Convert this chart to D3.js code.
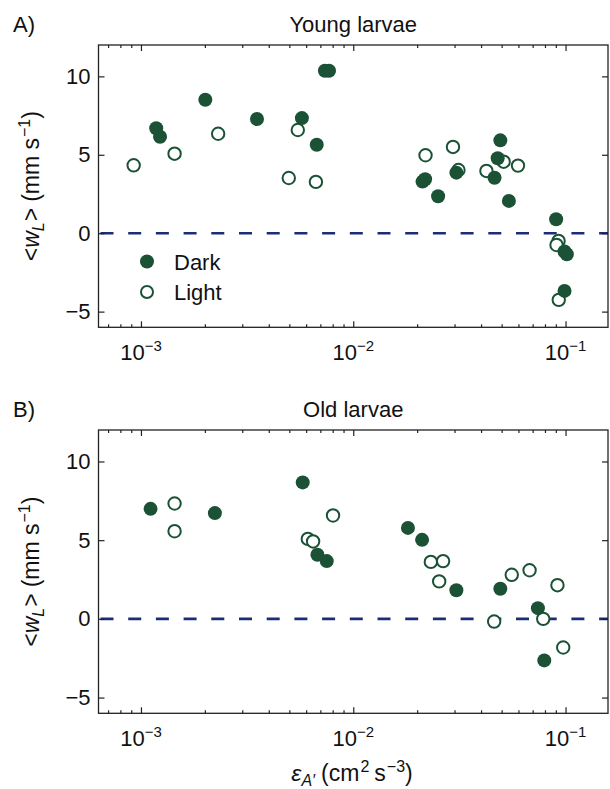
<!DOCTYPE html>
<html>
<head>
<meta charset="utf-8">
<script src="https://cdn.jsdelivr.net/npm/d3@7"></script>
<style>
  body { margin: 0; background: #fff; }
  text { font-family: "Liberation Sans", Arial, sans-serif; fill: #111; }
  .axis path { display: none; }
  .axis line { stroke: #222; stroke-width: 1.2; }
</style>
</head>
<body>
<svg id="chart" width="610" height="789"></svg>
<script>
// panel A - young larvae
var youngDarkX = [0.00118, 0.00123, 0.00201, 0.00352, 0.00573, 0.00673, 0.00735, 0.00769,
                  0.0212, 0.0218, 0.0251, 0.0306, 0.0493, 0.0479, 0.0463, 0.0541, 0.0903, 0.0989, 0.1014, 0.0989];
var youngDarkY = [6.69, 6.15, 8.51, 7.28, 7.34, 5.64, 10.36, 10.36,
                  3.29, 3.44, 2.36, 3.86, 5.92, 4.78, 3.54, 2.06, 0.89, -1.17, -1.34, -3.68];
var youngLightX = [0.000924, 0.00144, 0.00231, 0.00497, 0.00548, 0.00667,
                   0.0219, 0.0295, 0.0313, 0.0424, 0.0511, 0.0597, 0.0927, 0.0907, 0.0929];
var youngLightY = [4.33, 5.07, 6.34, 3.52, 6.58, 3.27,
                   4.97, 5.50, 4.03, 3.97, 4.56, 4.31, -0.49, -0.75, -4.25];

// panel B - old larvae
var oldDarkX = [0.00111, 0.00223, 0.00578, 0.00678, 0.00750, 0.0181, 0.0211, 0.0306, 0.0493, 0.0741, 0.0794];
var oldDarkY = [6.99, 6.72, 8.67, 4.07, 3.67, 5.78, 5.02, 1.82, 1.91, 0.68, -2.64];
var oldLightX = [0.00144, 0.00144, 0.00611, 0.00647, 0.00803, 0.0232, 0.0265, 0.0254, 0.0461, 0.0558, 0.0677, 0.0785, 0.0916, 0.0975];
var oldLightY = [7.33, 5.57, 5.08, 4.92, 6.57, 3.62, 3.67, 2.38, -0.17, 2.80, 3.09, 0.00, 2.14, -1.82];

var yTicks = [-5, 0, 5, 10];
var xMajor = [1e-3, 1e-2, 1e-1];
var xExp = ["−3", "−2", "−1"];

var green = "#1b5236", navy = "#1c2d78";
var fs = "22px", fsSmall = "15px", fsLab = "23px", fsLabSmall = "16px";

var svg = d3.select("#chart");
var left = 98.5, right = 608;

var x = d3.scaleLog().domain([Math.pow(10, -3.2), Math.pow(10, -0.8)]).range([left, right]);

// minor ticks for the log axis
var xMinor = [];
[1e-4, 1e-3, 1e-2, 1e-1].forEach(function(d) {
  for (var k = 2; k <= 9; k++) {
    var v = d * k;
    if (v > x.domain()[0] && v < x.domain()[1]) xMinor.push(v);
  }
});

function panel(top, bottom, title, tag, dx, dy, lx, ly, legend) {
  var y = d3.scaleLinear().domain([-6, 12]).range([bottom, top]);
  var g = svg.append("g");

  // zero line
  g.append("line")
      .attr("x1", left + 2).attr("x2", right)
      .attr("y1", y(0)).attr("y2", y(0))
      .attr("stroke", navy).attr("stroke-width", 2.6)
      .attr("stroke-dasharray", "13,14.7");

  // ticks
  g.append("g").attr("class", "axis").attr("transform", "translate(0," + bottom + ")")
      .call(d3.axisBottom(x).tickValues(xMajor).tickSize(-6).tickFormat(""));
  g.append("g").attr("class", "axis").attr("transform", "translate(0," + bottom + ")")
      .call(d3.axisBottom(x).tickValues(xMinor).tickSize(-3).tickFormat(""));
  g.append("g").attr("class", "axis").attr("transform", "translate(0," + top + ")")
      .call(d3.axisTop(x).tickValues(xMajor).tickSize(-6).tickFormat(""));
  g.append("g").attr("class", "axis").attr("transform", "translate(0," + top + ")")
      .call(d3.axisTop(x).tickValues(xMinor).tickSize(-3).tickFormat(""));
  g.append("g").attr("class", "axis").attr("transform", "translate(" + right + ",0)")
      .call(d3.axisRight(y).tickValues(yTicks).tickSize(-6).tickFormat(""));
  var ya = g.append("g").attr("class", "axis").attr("transform", "translate(" + left + ",0)")
      .call(d3.axisLeft(y).tickValues(yTicks).tickSize(-6).tickPadding(8)
        .tickFormat(function(d) { return d < 0 ? "−" + (-d) : d; }));
  ya.selectAll("text").style("font-size", fs).attr("fill", "#111")
      .style("font-family", "Liberation Sans, Arial, sans-serif");

  // frame
  g.append("rect")
      .attr("x", left).attr("y", top)
      .attr("width", right - left).attr("height", bottom - top)
      .attr("fill", "none").attr("stroke", "#222").attr("stroke-width", 1.3);

  // x tick labels
  var xl = g.selectAll(".xlab").data(xMajor).enter().append("text")
      .attr("x", function(d) { return x(d); })
      .attr("y", bottom + 33)
      .attr("text-anchor", "middle")
      .style("font-size", fs);
  xl.append("tspan").text("10");
  xl.append("tspan").attr("dy", -9).style("font-size", fsSmall)
      .text(function(d, i) { return xExp[i]; });

  // points
  g.selectAll(".light").data(d3.range(lx.length)).enter().append("circle")
      .attr("cx", function(i) { return x(lx[i]); })
      .attr("cy", function(i) { return y(ly[i]); })
      .attr("r", 6.2)
      .attr("fill", "#fff").attr("stroke", green).attr("stroke-width", 2);
  g.selectAll(".dark").data(d3.range(dx.length)).enter().append("circle")
      .attr("cx", function(i) { return x(dx[i]); })
      .attr("cy", function(i) { return y(dy[i]); })
      .attr("r", 7)
      .attr("fill", green);

  // titles
  svg.append("text").attr("x", (left + right) / 2).attr("y", top - 13)
      .attr("text-anchor", "middle").style("font-size", fs).text(title);
  svg.append("text").attr("x", 13).attr("y", top - 13)
      .style("font-size", fs).text(tag);

  // y label
  var yl = svg.append("text")
      .attr("transform", "translate(39," + ((top + bottom) / 2) + ") rotate(-90)")
      .attr("text-anchor", "middle").style("font-size", fsLab);
  yl.append("tspan").text("<");
  yl.append("tspan").style("font-style", "italic").text("w");
  yl.append("tspan").attr("dy", 5).style("font-size", fsLabSmall).style("font-style", "italic").text("L");
  yl.append("tspan").attr("dy", -5).attr("dx", 1).text(">");
  yl.append("tspan").attr("dx", 6).text("(mm s");
  yl.append("tspan").attr("dy", -9).attr("dx", 1).style("font-size", fsLabSmall).text("−1");
  yl.append("tspan").attr("dy", 9).text(")");

  if (legend) {
    var lg = svg.append("g");
    lg.append("circle").attr("cx", 147).attr("cy", 261.5).attr("r", 7).attr("fill", green);
    lg.append("circle").attr("cx", 147).attr("cy", 292).attr("r", 6)
        .attr("fill", "#fff").attr("stroke", green).attr("stroke-width", 2);
    lg.append("text").attr("x", 174).attr("y", 269.5).style("font-size", fs).text("Dark");
    lg.append("text").attr("x", 174).attr("y", 300).style("font-size", fs).text("Light");
  }
}

panel(45, 327.3, "Young larvae", "A)", youngDarkX, youngDarkY, youngLightX, youngLightY, true);
panel(430, 713.3, "Old larvae", "B)", oldDarkX, oldDarkY, oldLightX, oldLightY, false);

// x axis label
var xt = svg.append("text").attr("x", 352).attr("y", 781)
    .attr("text-anchor", "middle").style("font-size", fsLab);
xt.append("tspan").style("font-style", "italic").text("ε");
xt.append("tspan").attr("dy", 5).style("font-size", fsLabSmall).style("font-style", "italic").text("A′");
xt.append("tspan").attr("dy", -5).attr("dx", 6).text("(cm");
xt.append("tspan").attr("dy", -9).attr("dx", 1).style("font-size", fsLabSmall).text("2");
xt.append("tspan").attr("dy", 9).attr("dx", 5).text("s");
xt.append("tspan").attr("dy", -9).attr("dx", 1).style("font-size", fsLabSmall).text("−3");
xt.append("tspan").attr("dy", 9).text(")");
</script>
</body>
</html>
